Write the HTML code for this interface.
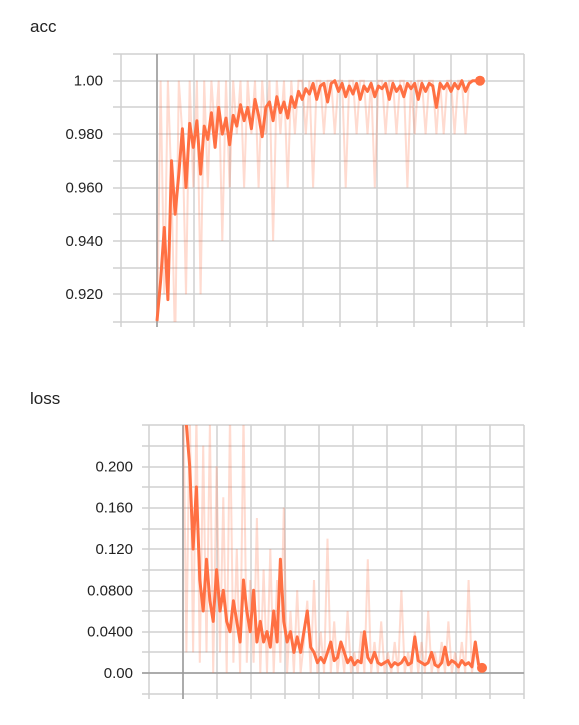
<!DOCTYPE html>
<html><head><meta charset="utf-8"><style>
html,body{margin:0;padding:0;background:#fff;width:579px;height:725px;overflow:hidden}
svg{display:block;font-family:"Liberation Sans",sans-serif}
</style></head><body>
<svg id="svg" width="579" height="725">
<text x="30" y="32" font-size="17" fill="#222">acc</text>
<text x="30" y="404" font-size="17" fill="#222">loss</text>
</svg>
<script>
const accTicks=[1.00,0.98,0.96,0.94,0.92];
const accTickLabels=["1.00","0.980","0.960","0.940","0.920"];
const accSmooth=[0.910,0.925,0.945,0.918,0.970,0.950,0.965,0.982,0.960,0.984,0.975,0.985,0.965,0.983,0.978,0.988,0.975,0.990,0.980,0.986,0.976,0.987,0.983,0.991,0.985,0.990,0.982,0.993,0.987,0.979,0.990,0.992,0.985,0.994,0.988,0.992,0.986,0.994,0.990,0.996,0.993,0.997,0.995,0.999,0.993,0.998,0.999,0.992,0.999,1.0,0.996,0.999,0.994,0.998,0.995,0.999,0.993,0.998,0.996,0.999,0.994,0.998,0.997,0.999,0.993,0.999,0.996,0.998,0.994,0.999,0.997,0.999,0.993,0.999,0.996,0.999,0.998,0.990,0.999,0.997,0.999,0.996,0.999,0.997,1.0,0.996,0.999,1.0,1.0,1.0];
const accRaw=[0.90,1.0,0.92,1.0,0.96,0.90,1.0,0.98,0.92,1.0,0.96,1.0,0.92,1.0,0.96,1.0,0.98,1.0,0.94,1.0,0.96,1.0,0.98,1.0,0.96,1.0,0.98,1.0,0.96,1.0,0.98,1.0,0.94,1.0,0.98,1.0,0.96,1.0,0.98,1.0,1.0,0.98,1.0,0.96,1.0,1.0,0.98,1.0,1.0,0.98,1.0,1.0,0.96,1.0,1.0,0.98,1.0,1.0,0.98,1.0,0.96,1.0,1.0,0.98,1.0,1.0,0.98,1.0,1.0,0.96,1.0,0.98,1.0,1.0,0.98,1.0,1.0,0.98,1.0,0.98,1.0,1.0,0.98,1.0,1.0,0.98,1.0,1.0,1.0,1.0];
const lossTicks=[0.20,0.16,0.12,0.08,0.04,0.00];
const lossTickLabels=["0.200","0.160","0.120","0.0800","0.0400","0.00"];
const lossSmooth=[0.30,0.24,0.20,0.12,0.18,0.09,0.06,0.11,0.07,0.05,0.10,0.06,0.08,0.05,0.04,0.07,0.05,0.03,0.09,0.06,0.04,0.08,0.03,0.05,0.03,0.04,0.025,0.06,0.03,0.11,0.05,0.03,0.04,0.02,0.035,0.02,0.04,0.06,0.025,0.02,0.01,0.015,0.01,0.02,0.03,0.012,0.015,0.03,0.02,0.01,0.015,0.008,0.012,0.01,0.04,0.015,0.01,0.02,0.01,0.008,0.01,0.012,0.006,0.01,0.008,0.01,0.015,0.008,0.01,0.035,0.012,0.01,0.008,0.01,0.02,0.008,0.006,0.01,0.025,0.008,0.012,0.01,0.006,0.012,0.008,0.01,0.006,0.03,0.008,0.005];
const lossRaw=[0.30,0.02,0.26,0.02,0.25,0.01,0.22,0.02,0.24,0.0,0.20,0.02,0.17,0.0,0.25,0.01,0.12,0.0,0.25,0.01,0.09,0.01,0.15,0.0,0.10,0.0,0.12,0.0,0.09,0.01,0.16,0.0,0.06,0.0,0.08,0.0,0.03,0.07,0.0,0.09,0.0,0.04,0.0,0.13,0.0,0.05,0.0,0.03,0.0,0.06,0.0,0.02,0.0,0.04,0.0,0.11,0.0,0.03,0.0,0.05,0.0,0.02,0.0,0.03,0.0,0.08,0.0,0.02,0.0,0.04,0.0,0.03,0.0,0.06,0.0,0.02,0.0,0.03,0.0,0.05,0.0,0.02,0.0,0.03,0.0,0.09,0.0,0.02,0.01,0.005];

const NS="http://www.w3.org/2000/svg";
const svg=document.getElementById('svg');
function mk(tag,attrs,parent){const e=document.createElementNS(NS,tag);for(const k in attrs)e.setAttribute(k,attrs[k]);(parent||svg).appendChild(e);return e;}

function chart(cfg){
  const {px0,px1,py0,py1,vmin,vmax,vgrid,hgrid,axisX,axisY,dataX0,dataX1,ticks,labels,smooth,raw,name,clipId,labelX}=cfg;
  const y=v=>py1-(v-vmin)/(vmax-vmin)*(py1-py0);
  const x=i=>dataX0+i/(smooth.length-1)*(dataX1-dataX0);
  const g=mk('g',{});
  
  
  hgrid.forEach(gy=>{const l=mk('line',{x1:px0,x2:px1,y1:gy,y2:gy,stroke:'#d0d0d0','stroke-width':1.5},g);
    });
  vgrid.forEach(gx=>{const l=mk('line',{x1:gx,x2:gx,y1:py0,y2:py1+5,stroke:'#d0d0d0','stroke-width':1.5},g);
    });
  const ax=mk('line',{x1:axisX,x2:axisX,y1:py0,y2:py1+5,stroke:'#999','stroke-width':1.5},g);
  
  if(axisY!==null){const ay=mk('line',{x1:px0,x2:px1,y1:axisY,y2:axisY,stroke:'#999','stroke-width':1.5},g);
    }
  ticks.forEach((t,i)=>{const tx=mk('text',{x:labelX,y:y(t)+5,'font-size':15,fill:'#222','text-anchor':'end'},g);
    tx.textContent=labels[i];
    });
  const cp=mk('clipPath',{id:clipId},g);mk('rect',{x:px0,y:py0,width:px1-px0,height:py1-py0},cp);
  const xr=i=>dataX0+i/(raw.length-1)*(dataX1-dataX0);
  const rp=mk('path',{d:raw.map((v,i)=>(i?'L':'M')+xr(i).toFixed(1)+','+y(v).toFixed(1)).join(''),fill:'none',stroke:'#ff7043','stroke-opacity':0.25,'stroke-width':2,'clip-path':'url(#'+clipId+')'},g);
  
  const sp=mk('path',{d:smooth.map((v,i)=>(i?'L':'M')+x(i).toFixed(1)+','+y(v).toFixed(1)).join(''),fill:'none',stroke:'#ff7043','stroke-width':3,'stroke-linejoin':'round','clip-path':'url(#'+clipId+')'},g);
  
  const c=mk('circle',{cx:x(smooth.length-1),cy:y(smooth[smooth.length-1]),r:5,fill:'#ff7043'},g);
  
}

chart({px0:113,px1:524,py0:54,py1:322,vmin:0.9096,vmax:1.01,
  vgrid:[121,157,194,230,267,303,340,377,414,451,487,524],
  hgrid:[54,81,107,134,161,188,214,241,268,294,322],
  axisX:157,axisY:null,dataX0:157,dataX1:480,ticks:accTicks,labels:accTickLabels,
  smooth:accSmooth,raw:accRaw,name:'acc',clipId:'c1',labelX:103});
chart({px0:142,px1:524,py0:425,py1:694,vmin:-0.0203,vmax:0.24,
  vgrid:[149,183,217,251,285,319,353,387,422,456,490,524],
  hgrid:[425,446,467,487,508,529,549,570,591,611,632,652,673,694],
  axisX:183,axisY:673,dataX0:183,dataX1:482,ticks:lossTicks,labels:lossTickLabels,
  smooth:lossSmooth,raw:lossRaw,name:'loss',clipId:'c2',labelX:133});
</script>
</body></html>
